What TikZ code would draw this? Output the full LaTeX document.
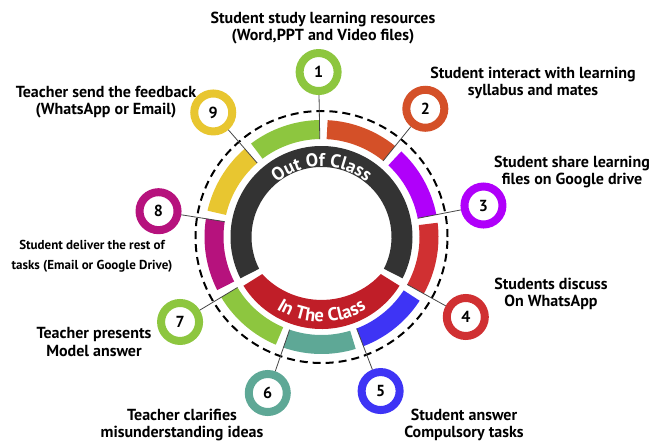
\documentclass[tikz,border=0pt]{standalone}
\usepackage{fontspec}
\setmainfont{PT Sans}
\usepackage{xcolor}
\usetikzlibrary{decorations.text}
\definecolor{seg1}{RGB}{141,198,63}
\definecolor{seg2}{RGB}{212,80,40}
\definecolor{seg3}{RGB}{176,0,250}
\definecolor{seg4}{RGB}{208,48,50}
\definecolor{seg5}{RGB}{62,52,245}
\definecolor{seg6}{RGB}{94,168,150}
\definecolor{seg7}{RGB}{141,198,63}
\definecolor{seg8}{RGB}{182,18,125}
\definecolor{seg9}{RGB}{232,198,48}
\definecolor{ringdark}{RGB}{51,51,51}
\definecolor{ringred}{RGB}{192,30,40}
\definecolor{linegray}{RGB}{70,70,70}

\begin{document}
\begin{tikzpicture}[x=1pt, y=1pt,
  numcirc/.style={circle, draw, line width=8pt, minimum size=38pt, inner sep=0pt, fill=white, font=\bfseries\fontsize{16}{16}\selectfont},
  lbl/.style={align=center, font=\bfseries\fontsize{16}{17.5}\selectfont},
  conn/.style={draw=linegray, line width=0.8pt}]
\useasboundingbox (0,0) rectangle (667,440);
\begin{scope}[shift={(321.5,203)}]
% Dashed ring
\draw[line width=2pt, dash pattern=on 8pt off 5pt] (0,0) circle[radius=126];

%Segments
\fill[color=seg1] (91:98) arc[start angle=91, end angle=127, radius=98] -- (127:117) arc[start angle=127, end angle=91, radius=117] -- cycle;
\fill[color=seg2] (51:98) arc[start angle=51, end angle=87, radius=98] -- (87:117) arc[start angle=87, end angle=51, radius=117] -- cycle;
\fill[color=seg3] (11:98) arc[start angle=11, end angle=47, radius=98] -- (47:117) arc[start angle=47, end angle=11, radius=117] -- cycle;
\fill[color=seg4] (-29:98) arc[start angle=-29, end angle=7, radius=98] -- (7:117) arc[start angle=7, end angle=-29, radius=117] -- cycle;
\fill[color=seg5] (-69:98) arc[start angle=-69, end angle=-33, radius=98] -- (-33:117) arc[start angle=-33, end angle=-69, radius=117] -- cycle;
\fill[color=seg6] (-109:98) arc[start angle=-109, end angle=-73, radius=98] -- (-73:117) arc[start angle=-73, end angle=-109, radius=117] -- cycle;
\fill[color=seg7] (-149:98) arc[start angle=-149, end angle=-113, radius=98] -- (-113:117) arc[start angle=-113, end angle=-149, radius=117] -- cycle;
\fill[color=seg8] (171:98) arc[start angle=171, end angle=207, radius=98] -- (207:117) arc[start angle=207, end angle=171, radius=117] -- cycle;
\fill[color=seg9] (131:98) arc[start angle=131, end angle=167, radius=98] -- (167:117) arc[start angle=167, end angle=131, radius=117] -- cycle;

%Inner rings
\fill[color=ringdark] (-27:70) arc[start angle=-27, end angle=207, radius=70] -- (207:91) arc[start angle=207, end angle=-27, radius=91] -- cycle;
\fill[color=ringred] (-148:92) arc[start angle=-148, end angle=-32, radius=92] -- (-32:70) arc[start angle=-42.9, end angle=-137.1, radius=81] -- cycle;
\path[decorate, decoration={text along path, text align=center,
  text={|\color{white}\bfseries\fontsize{18.5}{18.5}\selectfont|Out Of Class}}]
  (150:70.5) arc[start angle=150, end angle=30, radius=70.5];
\path[decorate, decoration={text along path, text align=center,
  text={|\color{white}\bfseries\fontsize{18.5}{18.5}\selectfont|In The Class}}]
  (-150:85) arc[start angle=-150, end angle=-30, radius=85];

% Ends
\coordinate (e1) at (91:98);
\coordinate (e2) at (51:98);
\coordinate (e3) at (11:98);
\coordinate (e4) at (-29:98);
\coordinate (e5) at (-69:98);
\coordinate (e6) at (-109:98);
\coordinate (e7) at (-149:98);
\coordinate (e8) at (171:98);
\coordinate (e9) at (131:98);

% Points
\node[numcirc, draw=seg1] (c1) at (91:165) {1};
\node[numcirc, draw=seg2] (c2) at (51:165) {2};
\node[numcirc, draw=seg3] (c3) at (11:165) {3};
\node[numcirc, draw=seg4] (c4) at (-29:165) {4};
\node[numcirc, draw=seg5] (c5) at (-69:165) {5};
\node[numcirc, draw=seg6] (c6) at (-109:165) {6};
\node[numcirc, draw=seg7] (c7) at (-149:165) {7};
\node[numcirc, draw=seg8] (c8) at (171:165) {8};
\node[numcirc, draw=seg9] (c9) at (131:165) {9};

%Lines
\draw[conn] (c1) -- (e1);
\draw[conn] (c2) -- (e2);
\draw[conn] (c3) -- (e3);
\draw[conn] (c4) -- (e4);
\draw[conn] (c5) -- (e5);
\draw[conn] (c6) -- (e6);
\draw[conn] (c7) -- (e7);
\draw[conn] (c8) -- (e8);
\draw[conn] (c9) -- (e9);
\end{scope}

% Labels
\node[lbl] (t1) at (323,412) {Student study learning resources\\(Word,PPT and Video files)};
\node[lbl] (t2) at (533,357) {Student interact with learning\\syllabus and mates};
\node[lbl] (t3) at (572,268) {Student share learning\\files on Google drive};
\node[lbl] (t4) at (551,146) {Students discuss\\On WhatsApp};
\node[lbl] (t5) at (464,15) {Student answer\\Compulsory tasks};
\node[lbl] (t6) at (182,15) {Teacher clarifies\\misunderstanding ideas};
\node[lbl] (t7) at (94,98) {Teacher presents\\Model answer};
\node[lbl, font=\bfseries\fontsize{13}{20}\selectfont] (t8) at (92,184) {Student deliver the rest of\\tasks (Email or Google Drive)};
\node[lbl] (t9) at (106,338) {Teacher send the feedback\\(WhatsApp or Email)};
\end{tikzpicture}
\end{document}
